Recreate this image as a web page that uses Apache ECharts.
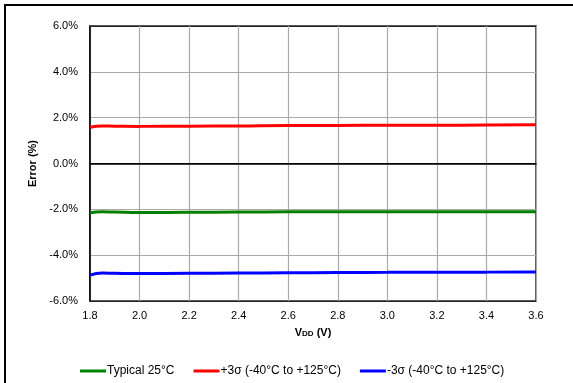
<!DOCTYPE html>
<html>
<head>
<meta charset="utf-8">
<script src="https://cdn.jsdelivr.net/npm/echarts@6/dist/echarts.min.js"></script>
<style>
  html, body { margin: 0; padding: 0; background: #fff; }
  #chart { width: 573px; height: 383px; }
</style>
</head>
<body>
<div id="chart"></div>
<script>
// values (VDD in V, error in %)
const vdd = [1.8, 1.85, 1.9, 2.0, 2.2, 2.4, 2.6, 2.8, 3.0, 3.2, 3.4, 3.6];
const typical = [-2.15, -2.11, -2.12, -2.14, -2.13, -2.12, -2.11, -2.11, -2.11, -2.10, -2.10, -2.10];
const plus3s = [1.58, 1.64, 1.63, 1.62, 1.63, 1.64, 1.66, 1.66, 1.67, 1.67, 1.68, 1.69];
const minus3s = [-4.87, -4.78, -4.79, -4.80, -4.79, -4.78, -4.77, -4.76, -4.75, -4.74, -4.74, -4.73];
const seriesNames = ['Typical 25°C', '+3σ (-40°C to +125°C)', '-3σ (-40°C to +125°C)'];
const seriesColors = ['#008000', '#ff0000', '#0000ff'];

const pairs = ys => vdd.map((x, i) => [x, ys[i]]);

const chart = echarts.init(document.getElementById('chart'));
const font = 'Liberation Sans, Arial, sans-serif';

chart.setOption({
    animation: false,
    textStyle: { fontFamily: font },
    graphic: [{
        type: 'rect',
        shape: { x: 5, y: 5, width: 600, height: 420 },
        style: { fill: 'none', stroke: '#000', lineWidth: 2 }
    }],
    grid: {
        left: 90, top: 26, right: 37, bottom: 82,
        show: true, borderColor: '#222', borderWidth: 1.5
    },
    legend: {
        bottom: 1,
        left: 75,
        itemWidth: 26,
        itemHeight: 3,
        itemGap: 19,
        icon: 'rect',
        textStyle: { fontSize: 12, color: '#000', fontFamily: font, padding: [0, 0, 0, -4] },
        data: seriesNames
    },
    xAxis: {
        type: 'value',
        min: 1.8, max: 3.6, interval: 0.2,
        name: '{v|V}{s|DD}{v| (V)}',
        nameLocation: 'middle',
        nameGap: 26,
        nameTextStyle: {
            rich: {
                v: { fontSize: 11, fontWeight: 'bold', color: '#000', fontFamily: font },
                s: { fontSize: 8, fontWeight: 'bold', color: '#000', fontFamily: font, verticalAlign: 'bottom', padding: [3, 0, 0, 0] }
            }
        },
        axisLine: { lineStyle: { color: '#000', width: 1.5 } },
        axisTick: { show: false },
        axisLabel: { fontSize: 11, color: '#000', margin: 9, formatter: v => v.toFixed(1) },
        splitLine: { lineStyle: { color: '#aaa', width: 1.2 } }
    },
    yAxis: {
        type: 'value',
        min: -6, max: 6, interval: 2,
        name: 'Error (%)',
        nameLocation: 'middle',
        nameGap: 46,
        nameTextStyle: { fontSize: 11, fontWeight: 'bold', color: '#000' },
        axisLine: { show: true, onZero: false, lineStyle: { color: '#000', width: 1.5 } },
        axisTick: { show: false },
        axisLabel: { fontSize: 11, color: '#000', margin: 12, formatter: v => v.toFixed(1) + '%' },
        splitLine: {
            lineStyle: {
                color: ['#222', '#aaa', '#aaa', '#000', '#aaa', '#aaa', '#222'],
                width: 1.2
            }
        }
    },
    series: [typical, plus3s, minus3s].map((ys, i) => ({
        name: seriesNames[i],
        type: 'line',
        data: pairs(ys),
        smooth: true,
        showSymbol: false,
        color: seriesColors[i],
        lineStyle: { width: 3, color: seriesColors[i] }
    }))
});
</script>
</body>
</html>
